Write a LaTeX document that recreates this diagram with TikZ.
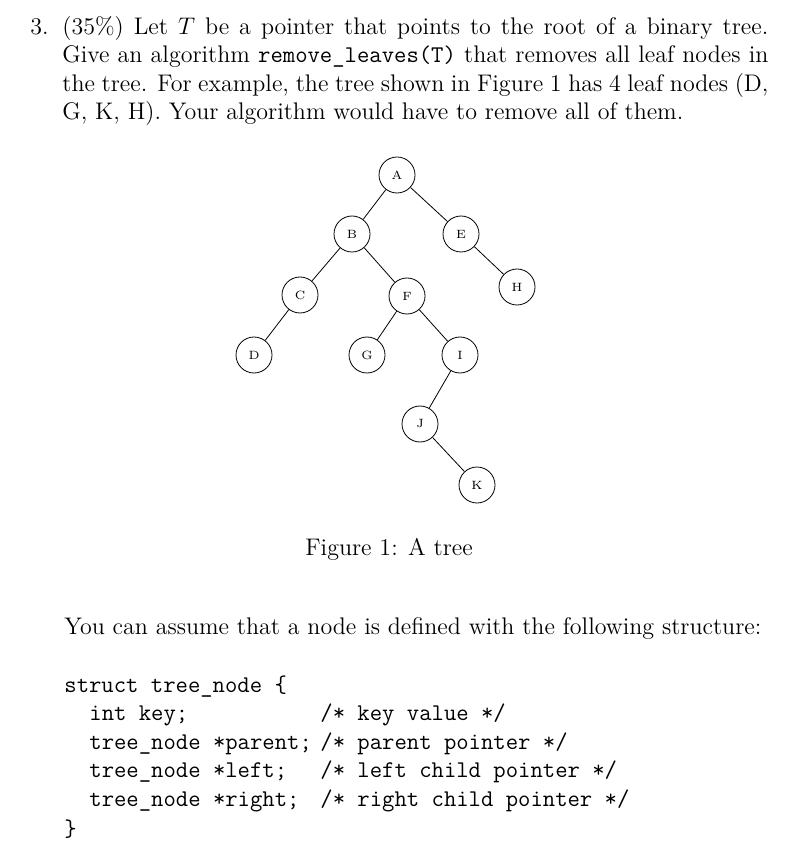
\documentclass[tikz,border=0pt]{standalone}
\usepackage{tikz}
\usetikzlibrary{positioning}
\tikzset{
  tnode/.style={circle, draw, minimum size=36*0.5pt, inner sep=0pt, font=\fontsize{6}{7}\selectfont},
  tline/.style={anchor=base west, inner sep=0pt, font=\fontsize{12}{14}\selectfont},
  cline/.style={anchor=base west, inner sep=0pt, font=\fontsize{12}{14}\selectfont\ttfamily}
}
\newcommand{\jline}[1]{\hbox to 353pt{#1}}
\begin{document}
\begin{tikzpicture}[x=0.5pt, y=-0.5pt]
        \useasboundingbox (0,0) rectangle (788,860);
        % question text
        \node[tline] (num)   at (30,35)  {3.};
        \node[tline] (l1) at (62,35)  {\jline{(35\%) Let $T$ be a pointer that points to the root of a binary tree.}};
        \node[tline] (l2) at (62,63)  {\jline{Give an algorithm \texttt{remove\_leaves(T)} that removes all leaf nodes in}};
        \node[tline] (l3) at (62,92)  {\jline{the tree. For example, the tree shown in Figure 1 has 4 leaf nodes (D,}};
        \node[tline] (l4) at (62,120) {G, K, H). Your algorithm would have to remove all of them.};
        % tree
        \node[tnode] (A) at (397,175) {A};
        \node[tnode] (B) at (352,234) {B};
        \node[tnode] (E) at (461,234) {E};
        \node[tnode] (C) at (300,295) {C};
        \node[tnode] (F) at (407,296) {F};
        \node[tnode] (H) at (517,287) {H};
        \node[tnode] (D) at (254,355) {D};
        \node[tnode] (G) at (367,355) {G};
        \node[tnode] (I) at (460,355) {I};
        \node[tnode] (J) at (420,424) {J};
        \node[tnode] (K) at (477,485) {K};
        \foreach \a/\b in {A/B, A/E, B/C, B/F, E/H, C/D, F/G, F/I, I/J, J/K}
            \draw (\a) -- (\b);
        \node[tline] (cap) at (305,555) {Figure 1: A tree};
        % structure
        \node[tline] (intro) at (64,634) {You can assume that a node is defined with the following structure:};
        \node[cline] (s0) at (64,692)  {struct tree\_node \{};
        \node[cline] (s1) at (89,720)  {int key;};
        \node[cline] (s2) at (89,749)  {tree\_node *parent;};
        \node[cline] (s3) at (89,777)  {tree\_node *left;};
        \node[cline] (s4) at (89,806)  {tree\_node *right;};
        \node[cline] (s5) at (64,836)  {\}};
        \node[cline] (c1) at (320,720) {/* key value */};
        \node[cline] (c2) at (320,749) {/* parent pointer */};
        \node[cline] (c3) at (320,777) {/* left child pointer */};
        \node[cline] (c4) at (320,806) {/* right child pointer */};
\end{tikzpicture}
\end{document}
